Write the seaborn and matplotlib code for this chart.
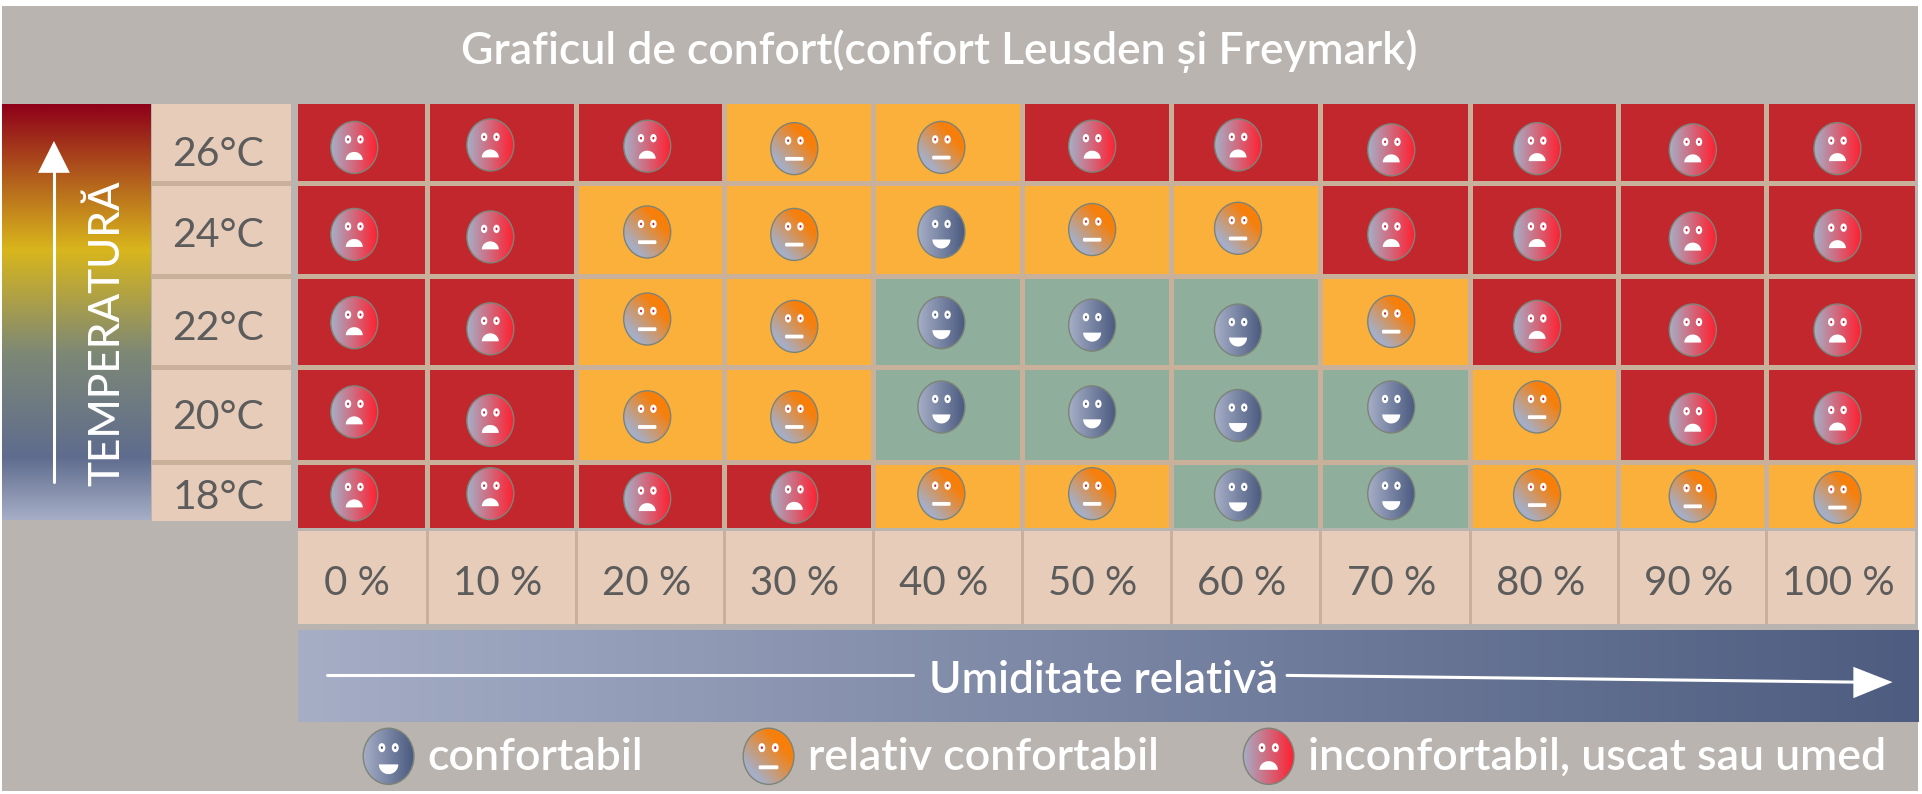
import numpy as np
import pandas as pd
import matplotlib.pyplot as plt
import seaborn as sns
from matplotlib.colors import ListedColormap, LinearSegmentedColormap
from matplotlib.patches import Ellipse, Rectangle, FancyBboxPatch, Polygon
from matplotlib.transforms import ScaledTranslation

temps = ["26°C", "24°C", "22°C", "20°C", "18°C"]
humidity = ["0 %", "10 %", "20 %", "30 %", "40 %", "50 %", "60 %", "70 %", "80 %", "90 %", "100 %"]

# 0 = confortabil, 1 = relativ confortabil, 2 = inconfortabil
cells = [
    [2, 2, 2, 1, 1, 2, 2, 2, 2, 2, 2],
    [2, 2, 1, 1, 1, 1, 1, 2, 2, 2, 2],
    [2, 2, 1, 1, 0, 0, 0, 1, 2, 2, 2],
    [2, 2, 1, 1, 0, 0, 0, 0, 1, 2, 2],
    [2, 2, 2, 2, 1, 1, 0, 0, 1, 1, 1],
]
faces = [
    [2, 2, 2, 1, 1, 2, 2, 2, 2, 2, 2],
    [2, 2, 1, 1, 0, 1, 1, 2, 2, 2, 2],
    [2, 2, 1, 1, 0, 0, 0, 1, 2, 2, 2],
    [2, 2, 1, 1, 0, 0, 0, 0, 1, 2, 2],
    [2, 2, 2, 2, 1, 1, 0, 0, 1, 1, 1],
]
legend_labels = ["confortabil", "relativ confortabil", "inconfortabil, uscat sau umed"]

W, H = 1922, 794
S = W / 1568
BG = "#B9B4AF"
PEACH = "#E6CCB9"
LINE = "#C8B09A"
INK = "#5C5C5C"

# layout, measured on the reference (1568 wide view)
col_edges = np.array([243, 348, 470, 591, 712, 834, 955, 1077, 1199, 1320, 1441, 1562]) * S
row_edges = np.array([85, 149.5, 225, 299.5, 376.5, 431]) * S
face_dx = np.array([-6.5, -9, -2.5, -3.5, -5, -3.5, -6, -3, -5.5, 0.5, -2.5]) * S
face_dy = np.array([
    [3, 1, 2, 4, 3, 2, 1, 5, 4, 5, 4],
    [4, 6, 2, 4, 2, 0, -1, 4, 4, 7, 5],
    [1, 6, -2, 4, 1, 3, 7, 0, 4, 7, 7],
    [-2, 5, 2, 2, -6, -2, 1, -6, -6, 4, 3],
    [0, -1, 3, 2, -1, -1, 0, -1, 0, 1, 2],
]) * S

sns.set_style("white")
plt.rcParams["font.family"] = ["Lato", "DejaVu Sans"]

fig = plt.figure(figsize=(W / 100, H / 100), dpi=100, facecolor="white")


def px_axes(x0, y0, x1, y1, **kw):
    return fig.add_axes([x0 / W, 1 - y1 / H, (x1 - x0) / W, (y1 - y0) / H], **kw)


def warp(ax, xe, ye, pad=3):
    # heatmap cells are uniform, so stretch them with the axis scales.
    # the outer edges get pushed out of the box so no border line shows there
    xp, yp = xe.copy(), ye.copy()
    xp[0] -= pad
    xp[-1] += pad
    yp[0] -= pad
    yp[-1] += pad
    xi, yi = np.arange(len(xp)), np.arange(len(yp))
    fx = (lambda v: np.interp(v, xi, xp), lambda v: np.interp(v, xp, xi))
    fy = (lambda v: np.interp(v, yi, yp), lambda v: np.interp(v, yp, yi))
    ax.set_xscale("function", functions=fx)
    ax.set_yscale("function", functions=fy)
    ax.set_xlim(fx[1](xe[0]), fx[1](xe[-1]))
    ax.set_ylim(fy[1](ye[-1]), fy[1](ye[0]))
    ax.set_xticks([])
    ax.set_yticks([])
    ax.minorticks_off()
    ax.tick_params(which="both", length=0, labelbottom=False, labelleft=False)


def nudge(text, dx, dy):
    # shift an annotation by pixels of the 1568 view
    off = ScaledTranslation(dx * S / 100, -dy * S / 100, fig.dpi_scale_trans)
    text.set_transform(text.get_transform() + off)


bg_ax = px_axes(0, 0, W, H, zorder=0)
bg_ax.set_xlim(0, W)
bg_ax.set_ylim(H, 0)
bg_ax.axis("off")
bg_ax.add_patch(Rectangle((2, 5.7), 1916, 785, color=BG, lw=0))

# comfort grid
grid_ax = px_axes(col_edges[0], row_edges[0], col_edges[-1], row_edges[-1], zorder=1)
sns.heatmap(
    pd.DataFrame(cells, index=temps, columns=humidity),
    ax=grid_ax,
    cmap=ListedColormap(["#8FAE9B", "#FBB03B", "#C1272D"]),
    vmin=0, vmax=2, cbar=False, xticklabels=False, yticklabels=False,
    linewidths=2.4, linecolor=LINE,
)
warp(grid_ax, col_edges, row_edges)

# temperature labels
temp_edges = np.r_[row_edges[:-1], 425 * S]
temp_ax = px_axes(124 * S, temp_edges[0], 237 * S, temp_edges[-1], zorder=1)
sns.heatmap(
    pd.DataFrame({"t": [0] * 5}, index=temps),
    ax=temp_ax,
    cmap=ListedColormap([PEACH]),
    annot=np.array(temps).reshape(-1, 1), fmt="",
    annot_kws={"color": INK, "fontsize": 29.5},
    cbar=False, xticklabels=False, yticklabels=False,
    linewidths=2.4, linecolor=LINE,
)
warp(temp_ax, np.array([124, 237]) * S, temp_edges)
for t, dy in zip(temp_ax.texts, [10, 5, 6, 3, 4]):
    nudge(t, -2.5, dy)

# humidity labels
hum_ax = px_axes(col_edges[0], 433 * S, col_edges[-1], 509 * S, zorder=1)
sns.heatmap(
    pd.DataFrame([[0] * 11], columns=humidity),
    ax=hum_ax,
    cmap=ListedColormap([PEACH]),
    annot=np.array(humidity).reshape(1, -1), fmt="",
    annot_kws={"color": INK, "fontsize": 29},
    cbar=False, xticklabels=False, yticklabels=False,
    linewidths=1.8, linecolor=LINE,
)
warp(hum_ax, col_edges, np.array([433, 509]) * S)
for t in hum_ax.texts:
    nudge(t, -3, 5)

# everything decorative goes on a pixel overlay
ov = px_axes(0, 0, W, H, zorder=2)
ov.patch.set_alpha(0)
ov.axis("off")

temp_cmap = LinearSegmentedColormap.from_list("temp", [
    (0, "#8F0019"), (0.19, "#B5651D"), (0.35, "#D9B61C"), (0.6, "#7D8876"),
    (0.85, "#5F6C8E"), (1, "#A6AEC6"),
])
ov.imshow(np.linspace(0, 1, 256).reshape(-1, 1), cmap=temp_cmap, aspect="auto",
          extent=(2, 123 * S, 424 * S, 85 * S))
hum_cmap = LinearSegmentedColormap.from_list("hum", ["#A6AEC6", "#4D5C80"])
ov.imshow(np.linspace(0, 1, 256).reshape(1, -1), cmap=hum_cmap, aspect="auto",
          extent=(243 * S, 1918, 589 * S, 514 * S))


def gradient(kind):
    g = np.linspace(0, 1, 64)
    xx, yy = np.meshgrid(g, g)
    if kind == 0:
        cm = LinearSegmentedColormap.from_list("f0", ["#A6AEC6", "#4A5A80"])
        return cm(xx)
    if kind == 1:
        cm = LinearSegmentedColormap.from_list("f1", [
            (0, "#A6AEC6"), (0.2, "#A6AEC6"), (0.72, "#F77F0A"), (1, "#F77F0A")])
        return cm((xx + (1 - yy)) / 2)
    cm = LinearSegmentedColormap.from_list("f2", ["#A6AEC6", "#FF2030"])
    return cm(xx)


def draw_face(cx, cy, kind, size=1.0):
    rx, ry = 23.5 * size, 26 * size
    im = ov.imshow(gradient(kind), aspect="auto", extent=(cx - rx, cx + rx, cy + ry, cy - ry), zorder=3)
    clip = Ellipse((cx, cy), 2 * rx, 2 * ry, transform=ov.transData)
    im.set_clip_path(clip)
    ov.add_patch(Ellipse((cx, cy), 2 * rx, 2 * ry, fill=False, ec="#7C8478", lw=1, zorder=4))
    pupil = "#4A5A80" if kind == 0 else "#D02030"
    for sx in (-1, 1):
        ov.add_patch(Ellipse((cx + sx * 6.2 * size, cy - 8 * size), 6.4 * size, 8.4 * size, color="white", lw=0, zorder=5))
        ov.add_patch(Ellipse((cx + sx * 6.2 * size, cy - 8 * size), 2 * size, 2.6 * size, color=pupil, lw=0, zorder=6))
    t = np.linspace(0, np.pi, 30)
    if kind == 0:
        pts = np.c_[cx + 9 * size * np.cos(t), cy + 7.5 * size + 9 * size * np.sin(t)]
    elif kind == 1:
        ov.add_patch(FancyBboxPatch((cx - 8 * size, cy + 9.5 * size), 16 * size, 1.4 * size,
                                    boxstyle="round,pad=1.2", color="white", lw=0, zorder=5))
        return
    else:
        pts = np.c_[cx + 8.5 * size * np.cos(t), cy + 12.5 * size - 8 * size * np.sin(t)]
    ov.add_patch(Polygon(pts, closed=True, color="white", lw=0, zorder=5))


for r in range(5):
    for c in range(11):
        cx = (col_edges[c] + col_edges[c + 1]) / 2
        cy = (row_edges[r] + row_edges[r + 1]) / 2
        draw_face(cx + face_dx[c], cy + face_dy[r][c], faces[r][c])

legend_x = np.array([317, 627, 1035]) * S
legend_tx = np.array([349, 659, 1067]) * S
for k in range(3):
    draw_face(legend_x[k], 617 * S, k, size=1.08)
    ov.text(legend_tx[k], 618 * S, legend_labels[k], color="white", fontsize=32.2, va="center", ha="left", fontweight=600)

ov.text(766 * S, 42 * S, "Graficul de confort(confort Leusden și Freymark)", color="white",
        fontsize=32, ha="center", va="center", fontweight=600)
ov.text(900 * S, 555 * S, "Umiditate relativă", color="white", fontsize=31.8, ha="center", va="center", fontweight=600)
ov.text(87 * S, 272 * S, "TEMPERATURĂ", color="white", fontsize=30.4, rotation=90, ha="center", va="center", fontweight=500)

# arrows
ov.plot(np.array([44, 44]) * S, np.array([393, 140]) * S, color="white", lw=2.2, zorder=3)
ov.add_patch(Polygon(np.array([[31, 141], [57, 141], [44, 115]]) * S, color="white", lw=0, zorder=3))
ov.plot(np.array([267, 745]) * S, np.array([551, 551]) * S, color="white", lw=2.2, zorder=3)
ov.plot(np.array([1050, 1515]) * S, np.array([551, 556.5]) * S, color="white", lw=2.2, zorder=3)
ov.add_patch(Polygon(np.array([[1512, 544], [1512, 569.6], [1544, 556.5]]) * S, color="white", lw=0, zorder=3))

ov.set_xlim(0, W)
ov.set_ylim(H, 0)

fig.savefig("out.png", dpi=100)
